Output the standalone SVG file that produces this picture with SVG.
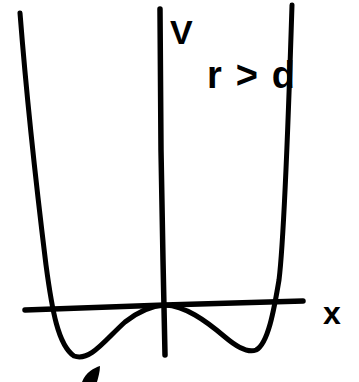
<svg xmlns="http://www.w3.org/2000/svg" width="359" height="382" viewBox="0 0 359 382">
<style>
.ln{fill:none;stroke:#000;stroke-width:5;stroke-linecap:round;stroke-linejoin:round}
.ax{fill:none;stroke:#000;stroke-width:5.5;stroke-linecap:round}
.lb{font-family:"Liberation Sans",Arial,sans-serif;font-weight:bold;fill:#000}
</style>
<rect width="359" height="382" fill="#fff"/>
<g id="axes">
<path class="ax" d="M160,9 L161,150 L163,260 L165,355"/>
<path class="ax" d="M25,310 L165,305 L303,301"/>
</g>
<g id="curve">
<path class="ln" d="M20,13 C26,90 38,200 46,265 C52,310 58,345 74,356 C90,362 105,340 125,322 C140,310 152,306 165,305 C185,306 205,320 225,337 C238,348 248,353 256,350 C268,344 274,310 279,280 C284,240 289,100 292,5"/>
</g>
<g id="labels">
<text class="lb" x="170" y="44" font-size="34">V</text>
<text class="lb" x="207" y="88" font-size="38" textLength="88" lengthAdjust="spacing">r&gt;d</text>
<text class="lb" x="323" y="324" font-size="32">x</text>
</g>
<path d="M82,382 C86,372 94,368 100,366 C100,372 98,378 97,382 Z" fill="#000"/>
</svg>
